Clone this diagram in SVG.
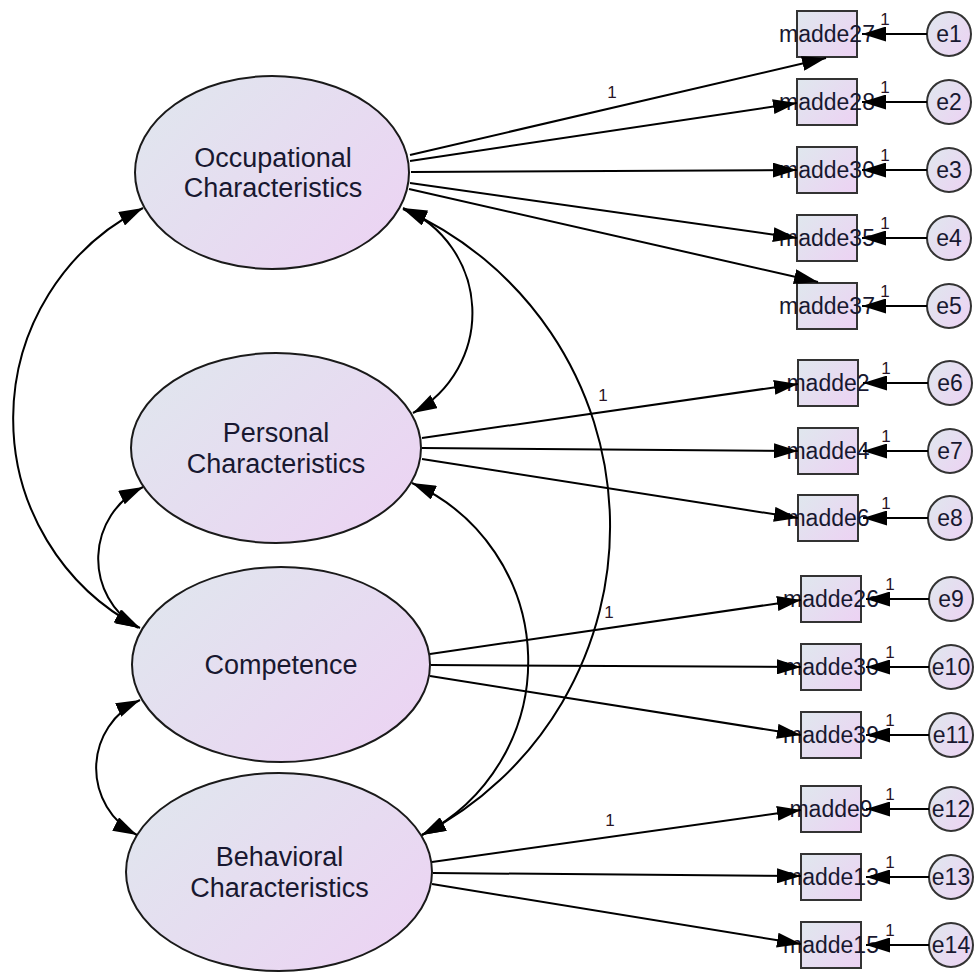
<svg xmlns="http://www.w3.org/2000/svg" width="976" height="972" viewBox="0 0 976 972">
<defs>
<linearGradient id="fill" x1="0" y1="0.15" x2="1" y2="0.85">
<stop offset="0" stop-color="#e0e6ee"/>
<stop offset="1" stop-color="#ecd3f3"/>
</linearGradient>
<marker id="ah" markerUnits="userSpaceOnUse" markerWidth="24" markerHeight="15" refX="24" refY="7.5" orient="auto-start-reverse" viewBox="0 0 24 15">
<path d="M0,0 L24,7.5 L0,15 z" fill="#000"/>
</marker>
<style>
.lat{fill:url(#fill);stroke:#1a1a1a;stroke-width:2}
.obs{fill:url(#fill);stroke:#333;stroke-width:2}
.err{fill:url(#fill);stroke:#333;stroke-width:2}
.lt{font-family:"Liberation Sans",Arial,sans-serif;font-size:27px;fill:#181830;text-anchor:middle}
.ot{font-family:"Liberation Sans",Arial,sans-serif;font-size:23px;fill:#181830;text-anchor:middle}
.et{font-family:"Liberation Sans",Arial,sans-serif;font-size:23px;fill:#181830;text-anchor:middle}
.one{font-family:"Liberation Sans",Arial,sans-serif;font-size:17px;fill:#2a1426;text-anchor:middle}
.p{fill:none;stroke:#000;stroke-width:2;marker-end:url(#ah)}
.c{fill:none;stroke:#000;stroke-width:2;marker-start:url(#ah);marker-end:url(#ah)}
</style>
</defs>

<g id="latents">
<g id="occupational">
<ellipse class="lat" cx="272" cy="172.5" rx="137" ry="96.5"/>
<text class="lt" x="273" y="167">Occupational</text>
<text class="lt" x="273" y="197">Characteristics</text>
</g>
<g id="personal">
<ellipse class="lat" cx="276" cy="448" rx="145" ry="95"/>
<text class="lt" x="276" y="442">Personal</text>
<text class="lt" x="276" y="473">Characteristics</text>
</g>
<g id="competence">
<ellipse class="lat" cx="281" cy="664.5" rx="149" ry="97.5"/>
<text class="lt" x="281" y="674">Competence</text>
</g>
<g id="behavioral">
<ellipse class="lat" cx="279" cy="872" rx="153" ry="99"/>
<text class="lt" x="279.5" y="866">Behavioral</text>
<text class="lt" x="279.5" y="897">Characteristics</text>
</g>
</g>

<g id="indicators">
<g id="madde27"><rect class="obs" x="797" y="11" width="60" height="46"/><text class="ot" x="827" y="42">madde27</text></g>
<g id="madde28"><rect class="obs" x="797" y="79" width="60" height="46"/><text class="ot" x="827" y="110">madde28</text></g>
<g id="madde30a"><rect class="obs" x="797" y="147" width="60" height="46"/><text class="ot" x="827" y="178">madde30</text></g>
<g id="madde35"><rect class="obs" x="797" y="215" width="60" height="46"/><text class="ot" x="827" y="246">madde35</text></g>
<g id="madde37"><rect class="obs" x="797" y="283" width="60" height="46"/><text class="ot" x="827" y="314">madde37</text></g>
<g id="madde2"><rect class="obs" x="798" y="360" width="60" height="46"/><text class="ot" x="828" y="391">madde2</text></g>
<g id="madde4"><rect class="obs" x="798" y="428" width="60" height="46"/><text class="ot" x="828" y="459">madde4</text></g>
<g id="madde6"><rect class="obs" x="798" y="495" width="60" height="46"/><text class="ot" x="828" y="526">madde6</text></g>
<g id="madde26"><rect class="obs" x="801" y="576" width="60" height="46"/><text class="ot" x="831" y="607">madde26</text></g>
<g id="madde30b"><rect class="obs" x="801" y="644" width="60" height="46"/><text class="ot" x="831" y="675">madde30</text></g>
<g id="madde39"><rect class="obs" x="801" y="712" width="60" height="46"/><text class="ot" x="831" y="743">madde39</text></g>
<g id="madde9"><rect class="obs" x="801" y="786" width="60" height="46"/><text class="ot" x="831" y="817">madde9</text></g>
<g id="madde13"><rect class="obs" x="801" y="854" width="60" height="46"/><text class="ot" x="831" y="885">madde13</text></g>
<g id="madde15"><rect class="obs" x="801" y="922" width="60" height="46"/><text class="ot" x="831" y="953">madde15</text></g>
</g>

<g id="errors">
<g id="e1"><circle class="err" cx="949" cy="34" r="22"/><text class="et" x="949" y="42">e1</text></g>
<g id="e2"><circle class="err" cx="949" cy="102" r="22"/><text class="et" x="949" y="110">e2</text></g>
<g id="e3"><circle class="err" cx="949" cy="170" r="22"/><text class="et" x="949" y="178">e3</text></g>
<g id="e4"><circle class="err" cx="949" cy="238" r="22"/><text class="et" x="949" y="246">e4</text></g>
<g id="e5"><circle class="err" cx="949" cy="306" r="22"/><text class="et" x="949" y="314">e5</text></g>
<g id="e6"><circle class="err" cx="950" cy="383" r="22"/><text class="et" x="950" y="391">e6</text></g>
<g id="e7"><circle class="err" cx="950" cy="451" r="22"/><text class="et" x="950" y="459">e7</text></g>
<g id="e8"><circle class="err" cx="950" cy="518" r="22"/><text class="et" x="950" y="526">e8</text></g>
<g id="e9"><circle class="err" cx="951" cy="599" r="22"/><text class="et" x="951" y="607">e9</text></g>
<g id="e10"><circle class="err" cx="951" cy="667" r="22"/><text class="et" x="951" y="675">e10</text></g>
<g id="e11"><circle class="err" cx="951" cy="735" r="22"/><text class="et" x="951" y="743">e11</text></g>
<g id="e12"><circle class="err" cx="951" cy="809" r="22"/><text class="et" x="951" y="817">e12</text></g>
<g id="e13"><circle class="err" cx="951" cy="877" r="22"/><text class="et" x="951" y="885">e13</text></g>
<g id="e14"><circle class="err" cx="951" cy="945" r="22"/><text class="et" x="951" y="953">e14</text></g>
</g>

<g id="connectors">
<path class="c" d="M403,208 A114,114 0 0 1 413,413"/>
<path class="c" d="M143,208 A236,236 0 0 0 140,628"/>
<path class="c" d="M403,209 A347,347 0 0 1 422,835"/>
<path class="c" d="M412,483 A195,195 0 0 1 422,835"/>
<path class="c" d="M143,487 A80,80 0 0 0 138,628"/>
<path class="c" d="M140,700 A75,75 0 0 0 137,835"/>
<line class="p" x1="410" y1="155" x2="826" y2="58"/>
<line class="p" x1="410" y1="161" x2="797" y2="103"/>
<line class="p" x1="411" y1="172" x2="797" y2="170"/>
<line class="p" x1="410" y1="183" x2="797" y2="238"/>
<line class="p" x1="409" y1="189" x2="818" y2="282"/>
<line class="p" x1="422" y1="438" x2="798" y2="384"/>
<line class="p" x1="422" y1="448" x2="798" y2="451"/>
<line class="p" x1="422" y1="459" x2="798" y2="518"/>
<line class="p" x1="430" y1="654" x2="801" y2="600"/>
<line class="p" x1="431" y1="665" x2="801" y2="667"/>
<line class="p" x1="430" y1="676" x2="801" y2="735"/>
<line class="p" x1="432" y1="862" x2="801" y2="810"/>
<line class="p" x1="433" y1="873" x2="801" y2="876"/>
<line class="p" x1="432" y1="884" x2="801" y2="944"/>
<text class="one" x="612" y="98">1</text>
<text class="one" x="603" y="401">1</text>
<text class="one" x="609" y="618">1</text>
<text class="one" x="610" y="826">1</text>
<line class="p" x1="927" y1="34" x2="862" y2="34"/>
<line class="p" x1="927" y1="102" x2="862" y2="102"/>
<line class="p" x1="927" y1="170" x2="862" y2="170"/>
<line class="p" x1="927" y1="238" x2="862" y2="238"/>
<line class="p" x1="927" y1="306" x2="862" y2="306"/>
<line class="p" x1="928" y1="383" x2="863" y2="383"/>
<line class="p" x1="928" y1="451" x2="863" y2="451"/>
<line class="p" x1="928" y1="518" x2="863" y2="518"/>
<line class="p" x1="929" y1="599" x2="866" y2="599"/>
<line class="p" x1="929" y1="667" x2="866" y2="667"/>
<line class="p" x1="929" y1="735" x2="866" y2="735"/>
<line class="p" x1="929" y1="809" x2="866" y2="809"/>
<line class="p" x1="929" y1="877" x2="866" y2="877"/>
<line class="p" x1="929" y1="945" x2="866" y2="945"/>
<text class="one" x="885" y="25">1</text>
<text class="one" x="885" y="93">1</text>
<text class="one" x="885" y="161">1</text>
<text class="one" x="885" y="229">1</text>
<text class="one" x="885" y="297">1</text>
<text class="one" x="886" y="374">1</text>
<text class="one" x="886" y="442">1</text>
<text class="one" x="886" y="509">1</text>
<text class="one" x="890" y="590">1</text>
<text class="one" x="890" y="658">1</text>
<text class="one" x="890" y="726">1</text>
<text class="one" x="890" y="800">1</text>
<text class="one" x="890" y="868">1</text>
<text class="one" x="890" y="936">1</text>
</g>
</svg>
